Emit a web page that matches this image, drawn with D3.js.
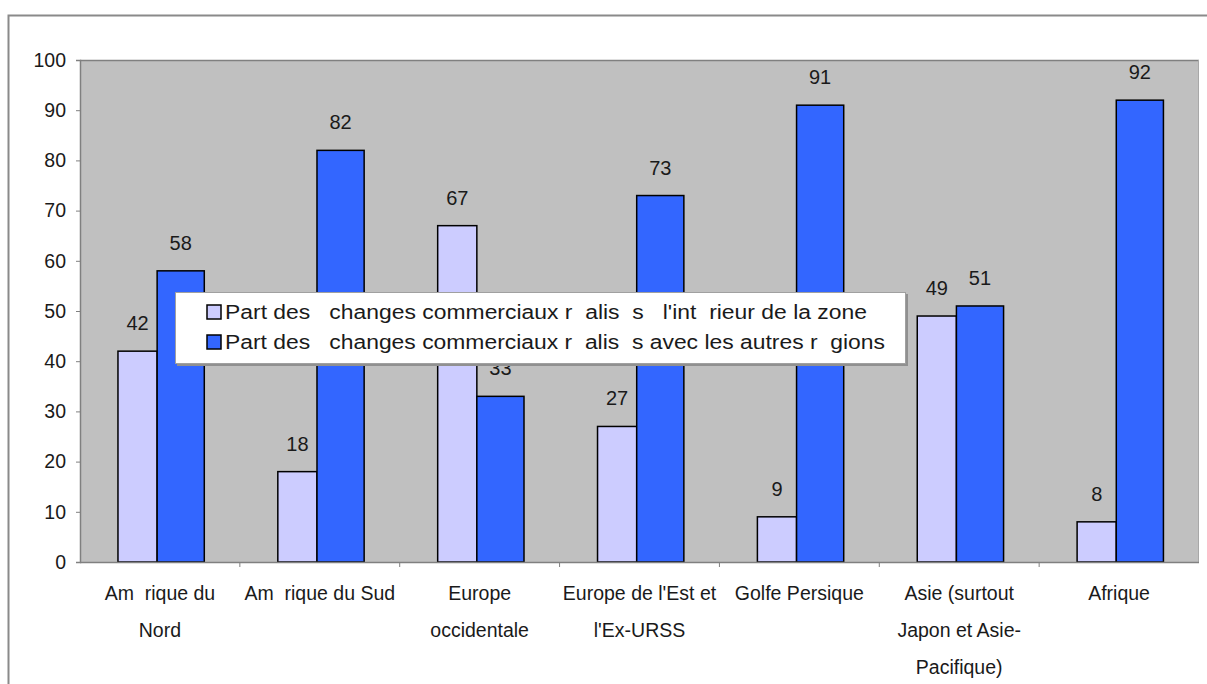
<!DOCTYPE html>
<html>
<head>
<meta charset="utf-8">
<script src="https://cdn.jsdelivr.net/npm/d3@7/dist/d3.min.js"></script>
<style>
  html, body { margin: 0; padding: 0; background: #ffffff; }
  svg { display: block; }
  text { font-family: Arial, "Liberation Sans", sans-serif; fill: #1a1a1a; }
</style>
</head>
<body>
<svg id="chart" width="1207" height="684"></svg>
<script>
// Regions (category labels, split over lines as they wrap under the axis)
const categoryLines = [
  ["Am  rique du", "Nord"],
  ["Am  rique du Sud"],
  ["Europe", "occidentale"],
  ["Europe de l'Est et", "l'Ex-URSS"],
  ["Golfe Persique"],
  ["Asie (surtout", "Japon et Asie-", "Pacifique)"],
  ["Afrique"]
];
const categories = categoryLines.map(l => l.join(" "));

// Share of trade inside the zone / with the other regions (%)
const insideZone = [42, 18, 67, 27, 9, 49, 8];
const otherRegions = [58, 82, 33, 73, 91, 51, 92];

const seriesNames = [
  "Part des   changes commerciaux r  alis  s   l'int  rieur de la zone",
  "Part des   changes commerciaux r  alis  s avec les autres r  gions"
];
const seriesColors = ["#ccccff", "#3366ff"];

const yTicks = [0, 10, 20, 30, 40, 50, 60, 70, 80, 90, 100];

const svg = d3.select("#chart");

// Outer chart frame
svg.append("path")
  .attr("d", "M8.5,684 L8.5,15.5 L1207,15.5")
  .attr("fill", "none")
  .attr("stroke", "#8a8a8a")
  .attr("stroke-width", 2);

const plot = { left: 80, right: 1199, top: 60, bottom: 562 };

const x = d3.scaleBand()
  .domain(categories)
  .range([plot.left, plot.right])
  .padding(0);

const y = d3.scaleLinear()
  .domain([0, 100])
  .range([plot.bottom, plot.top]);

// Plot background
svg.append("rect")
  .attr("x", plot.left)
  .attr("y", plot.top)
  .attr("width", plot.right - plot.left)
  .attr("height", plot.bottom - plot.top)
  .attr("fill", "#c0c0c0");

svg.append("line")
  .attr("x1", plot.left).attr("x2", plot.right)
  .attr("y1", plot.top + 0.5).attr("y2", plot.top + 0.5)
  .attr("stroke", "#808080").attr("stroke-width", 1.5);
svg.append("line")
  .attr("x1", plot.right - 0.5).attr("x2", plot.right - 0.5)
  .attr("y1", plot.top).attr("y2", plot.bottom)
  .attr("stroke", "#a8a8a8").attr("stroke-width", 1);

// Bars: two per region, placed inside each band
const bw = x.bandwidth();
const barSlots = [
  { data: insideZone, offset: 0.2375, width: 0.245 },
  { data: otherRegions, offset: 0.4825, width: 0.295 }
];

barSlots.forEach((slot, si) => {
  svg.append("g")
    .selectAll("rect")
    .data(slot.data)
    .join("rect")
    .attr("x", (d, i) => x(categories[i]) + slot.offset * bw)
    .attr("y", d => y(d))
    .attr("width", slot.width * bw)
    .attr("height", d => y(0) - y(d))
    .attr("fill", seriesColors[si])
    .attr("stroke", "#000000")
    .attr("stroke-width", 1.5);
});

// Value labels above the bars
barSlots.forEach(slot => {
  svg.append("g")
    .selectAll("text")
    .data(slot.data)
    .join("text")
    .attr("x", (d, i) => x(categories[i]) + (slot.offset + slot.width / 2) * bw)
    .attr("y", d => y(d) - 21)
    .attr("text-anchor", "middle")
    .attr("font-size", 20)
    .text(d => d);
});

// Y axis
const yAxis = d3.axisLeft(y)
  .tickValues(yTicks)
  .tickSize(4)
  .tickPadding(10)
  .tickFormat(d3.format("d"));

const yg = svg.append("g")
  .attr("transform", `translate(${plot.left},0)`)
  .call(yAxis);
yg.select(".domain").attr("stroke", "#808080").attr("stroke-width", 1.5);
yg.selectAll(".tick line").attr("stroke", "#808080");
yg.selectAll(".tick text")
  .attr("font-size", 19.5)
  .attr("font-family", "Arial, 'Liberation Sans', sans-serif")
  .attr("fill", "#1a1a1a");

// X axis: tick marks between the regions
const boundaries = categories.slice(1).map(c => x(c));
svg.append("line")
  .attr("x1", plot.left).attr("x2", plot.right)
  .attr("y1", plot.bottom + 0.5).attr("y2", plot.bottom + 0.5)
  .attr("stroke", "#808080").attr("stroke-width", 1.5);
svg.append("g")
  .selectAll("line")
  .data(boundaries)
  .join("line")
  .attr("x1", d => d).attr("x2", d => d)
  .attr("y1", plot.bottom).attr("y2", plot.bottom + 5)
  .attr("stroke", "#808080");

// Category labels
const catG = svg.append("g");
categoryLines.forEach((lines, i) => {
  const t = catG.append("text")
    .attr("x", x(categories[i]) + bw / 2)
    .attr("y", 600)
    .attr("text-anchor", "middle")
    .attr("font-size", 19.5)
    .style("white-space", "pre");
  lines.forEach((line, li) => {
    t.append("tspan")
      .attr("x", x(categories[i]) + bw / 2)
      .attr("dy", li === 0 ? 0 : 37)
      .text(line);
  });
});

// Legend
const legend = svg.append("g");
legend.append("rect")
  .attr("x", 177).attr("y", 294)
  .attr("width", 731).attr("height", 72)
  .attr("fill", "#909090");
legend.append("rect")
  .attr("x", 175.5).attr("y", 292.5)
  .attr("width", 730).attr("height", 71)
  .attr("fill", "#ffffff")
  .attr("stroke", "#a0a0a0")
  .attr("stroke-width", 1);

const legendRows = [{ y: 312, len: 642 }, { y: 342, len: 660 }];
legendRows.forEach((row, i) => {
  legend.append("rect")
    .attr("x", 207).attr("y", row.y - 7)
    .attr("width", 14).attr("height", 14)
    .attr("fill", seriesColors[i])
    .attr("stroke", "#000000")
    .attr("stroke-width", 1.5);
  legend.append("text")
    .attr("x", 225)
    .attr("y", row.y + 7)
    .attr("font-size", 20)
    .attr("textLength", row.len)
    .attr("lengthAdjust", "spacingAndGlyphs")
    .style("white-space", "pre")
    .text(seriesNames[i]);
});
</script>
</body>
</html>
